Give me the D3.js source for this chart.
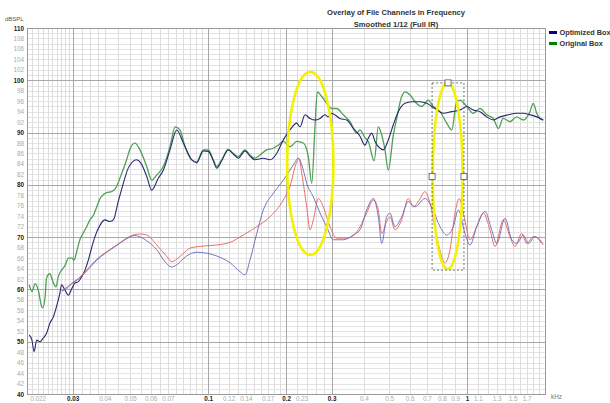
<!DOCTYPE html>
<html>
<head>
<meta charset="utf-8">
<script src="https://cdn.jsdelivr.net/npm/d3@7"></script>
<style>
  html, body { margin: 0; padding: 0; background: #ffffff; }
  svg { display: block; font-family: "Liberation Sans", Arial, sans-serif; }
</style>
</head>
<body>
<svg id="chart" width="610" height="403"></svg>
<script>
// ---- Frequency responses, [frequency in Hz, level in dB SPL] ----
const optimizedBox = [
  [20.4,51.3],[20.9,50.3],[21.3,48.1],[21.8,50.3],[22.4,50.0],[23.1,50.7],[23.8,51.6],[24.5,53.5],
  [25.3,54.8],[26.0,56.7],[26.8,59.3],[27.2,60.9],[28.0,59.9],[28.9,58.9],[29.8,60.2],[30.6,61.2],
  [31.6,61.5],[32.5,62.4],[33.5,63.7],[34.5,65.6],[35.5,67.9],[36.6,70.1],[38.3,72.3],[40.0,73.3],
  [41.8,73.0],[43.1,73.3],[45.0,76.8],[47.1,80.3],[49.2,83.2],[53.0,84.8],[55.0,84.2],[58.0,81.6],
  [60.6,79.0],[64.3,81.3],[67.2,82.8],[71.3,86.7],[75.7,90.5],[80.3,88.0],[86.5,84.8],[90.4,84.2],
  [95.9,86.5],[100.2,86.4],[104.8,84.6],[108.0,83.2],[112.9,84.6],[119.7,86.7],[125.2,85.9],[130.9,85.1],
  [138.9,86.5],[145.2,85.5],[151.8,84.8],[163.5,85.1],[173.5,84.8],[184.1,86.0],[195.3,88.6],[207.2,90.5],
  [220.0,91.8],[226.5,91.1],[236.8,93.4],[247.6,92.7],[258.8,92.4],[270.6,92.7],[282.9,93.4],[291.3,93.0],
  [300.2,93.7],[323.2,92.7],[343.1,92.4],[363.9,90.8],[386.2,89.3],[403.6,87.6],[415.7,88.9],[428.4,89.9],
  [441.3,88.3],[461.4,87.0],[475.1,86.7],[496.6,88.6],[519.2,91.5],[542.8,94.0],[576.2,95.6],[611.5,95.9],
  [658.2,95.9],[698.6,95.6],[752.2,94.6],[809.8,93.7],[872.8,94.0],[939.6,94.3],[997.2,95.0],[1057,94.3],
  [1122,94.0],[1191,93.0],[1263,92.4],[1341,93.0],[1443,93.4],[1555,93.7],[1649,93.7],[1750,93.4],
  [1858,93.0],[1970,92.4]
];

const originalBox = [
  [20.4,60.9],[20.9,59.6],[21.5,61.1],[22.1,59.9],[22.8,56.7],[23.0,56.5],[23.5,58.6],[23.8,62.2],
  [24.5,63.0],[25.3,61.2],[25.9,60.5],[26.4,62.4],[27.2,63.7],[28.0,64.5],[28.9,66.0],[29.8,66.0],
  [30.4,65.6],[31.1,67.2],[32.0,69.5],[33.0,70.8],[34.0,72.0],[35.0,73.3],[36.1,74.2],[37.2,75.8],
  [38.3,77.4],[39.4,78.1],[40.6,78.5],[42.5,78.7],[44.4,79.7],[45.7,81.3],[48.5,84.8],[50.0,86.9],
  [52.2,88.0],[54.6,86.7],[58.0,83.5],[60.6,80.9],[63.4,81.9],[67.2,83.5],[71.3,87.3],[74.6,91.1],
  [77.9,90.5],[81.5,87.3],[86.5,84.8],[90.4,84.4],[95.9,86.7],[100.2,86.7],[104.8,84.8],[108.0,83.5],
  [112.9,84.8],[119.7,86.8],[125.2,86.0],[130.9,85.4],[138.9,86.7],[145.2,85.7],[151.8,85.1],[158.7,85.7],
  [168.5,86.7],[178.7,87.0],[186.8,87.6],[195.3,88.3],[207.2,87.3],[220.0,88.3],[233.3,88.0],[243.9,85.4],
  [251.4,80.3],[258.8,91.1],[264.2,97.8],[274.7,96.9],[287.2,95.6],[300.2,94.6],[313.9,94.6],[332.9,93.4],
  [353.4,92.1],[375.0,89.9],[386.2,90.5],[403.6,89.0],[415.7,88.3],[438.0,84.6],[454.4,91.1],[468.4,89.5],
  [482.2,86.7],[496.6,82.8],[519.2,89.5],[535.1,92.7],[559.4,96.9],[576.2,97.8],[602.4,97.2],[629.6,95.9],
  [668.2,95.0],[708.6,96.2],[740.8,95.0],[786.4,94.0],[834.8,91.8],[872.8,90.5],[912.4,95.9],[939.6,96.2],
  [997.2,95.0],[1057,93.7],[1122,94.6],[1191,93.4],[1263,92.7],[1321,90.8],[1380,92.7],[1465,92.1],
  [1555,93.0],[1649,92.4],[1750,94.0],[1802,95.6],[1858,93.7],[1913,92.7],[1970,92.4]
];

// second channel of each box (lower traces)
const optimizedBoxCh2 = [
  [27.3,59.7],[28.0,59.9],[29.8,61.1],[31.6,62.0],[34.0,63.5],[37.2,65.6],[40.6,67.1],[44.4,68.4],
  [48.5,69.7],[52.2,70.3],[55.0,70.0],[58.0,69.3],[63.4,67.6],[68.2,65.3],[72.4,64.3],[76.6,64.9],
  [80.3,65.9],[90.4,67.1],[101.8,66.8],[112.9,66.0],[121.6,65.1],[132.9,63.4],[138.9,62.8],[145.2,65.6],
  [154.2,70.7],[163.5,75.2],[178.7,78.4],[195.3,80.9],[213.4,83.8],[223.1,85.1],[233.3,82.8],[240.4,80.3],
  [255.0,77.7],[270.6,74.6],[287.2,72.0],[304.6,69.5],[332.9,69.5],[363.9,70.4],[386.2,71.4],[409.8,75.2],
  [434.6,77.4],[454.4,73.9],[468.4,68.8],[489.6,73.9],[504.1,74.6],[527.0,72.0],[559.4,73.9],[593.4,76.8],
  [629.6,75.8],[688.2,77.4],[730.4,75.8],[786.4,72.0],[834.8,70.4],[885.0,72.0],[925.6,75.2],[982.2,70.7],
  [1027,68.5],[1090,72.0],[1173,74.9],[1245,71.4],[1302,68.8],[1402,73.6],[1488,69.5],[1555,68.8],
  [1649,70.4],[1724,68.8],[1830,70.1],[1942,68.8]
];

const originalBoxCh2 = [
  [27.3,59.7],[28.0,60.1],[29.8,61.2],[31.6,62.1],[34.0,63.7],[37.2,65.8],[40.6,67.2],[44.4,68.5],
  [48.5,69.8],[52.2,70.5],[54.6,70.6],[58.0,70.4],[63.4,68.5],[69.3,66.3],[72.4,65.3],[77.9,66.3],
  [85.2,67.9],[95.9,68.3],[108.0,68.5],[121.6,69.0],[136.8,70.4],[154.2,72.0],[173.5,73.9],[195.3,77.1],
  [207.2,79.7],[220.0,84.4],[224.5,85.0],[230.0,82.2],[240.4,75.8],[247.6,71.4],[255.0,73.3],[266.6,77.4],
  [278.6,75.8],[295.8,72.0],[313.9,69.8],[343.1,69.8],[375.0,71.0],[386.2,72.0],[409.8,74.6],[434.6,77.1],
  [454.4,75.2],[468.4,70.7],[489.6,73.0],[504.1,73.9],[527.0,71.4],[559.4,73.3],[593.4,77.4],[620.2,75.8],
  [648.4,76.8],[688.2,78.7],[719.4,76.5],[763.8,70.1],[822.2,65.1],[859.6,67.6],[898.6,74.6],[933.8,77.4],
  [967.6,74.6],[1027,69.5],[1090,72.0],[1156,74.6],[1226,71.4],[1282,68.2],[1380,73.3],[1465,70.1],
  [1532,68.2],[1626,70.7],[1699,68.8],[1802,70.1],[1913,69.5],[1970,68.5]
];

// ---- Axis tick labels ----
const xTickValues = [22, 30, 40, 50, 60, 70, 100, 120, 140, 170, 200, 230, 300, 400, 500, 600, 700, 800, 900, 1000, 1100, 1300, 1500, 1700];
const xTickLabels = ["0.022","0.03","0.04","0.05","0.06","0.07","0.1","0.12","0.14","0.17","0.2","0.23","0.3","0.4","0.5","0.6","0.7","0.8","0.9","1","1.1","1.3","1.5","1.7"];
const xMajorValues = [30, 100, 200, 300, 1000];
const xMinorGrid = [21,22,23,24,25,26,27,28,29, 32.5,35,37.5, 40,45,50,55,60,65,70,75,80,85,90,95,
                    110,120,130,140,150,160,170,180,190, 220,240,260,280,
                    400,500,600,700,800,900, 1100,1200,1300,1400,1500,1600,1700,1800,1900];
const yTickValues = d3.range(40, 111, 2);

// ---- Marked regions (yellow ellipses) and the selection frame ----
const highlightRegions = [
  { f0: 202, f1: 305, dbLow: 66.6, dbHigh: 101.6 },
  { f0: 737, f1: 962, dbLow: 63.9, dbHigh: 99.5 }
];
const selectionFrame = { f0: 733, f1: 973, dbLow: 63.7, dbHigh: 99.5 };

const series = [
  { name: "Original Box",  data: originalBox,     color: "#4f9f57", width: 1.3, legend: true },
  { name: "Optimized Box", data: optimizedBox,    color: "#27296e", width: 1.1, legend: true },
  { name: "Original Box 2",  data: originalBoxCh2,  color: "#e8605f", width: 0.9, legend: false },
  { name: "Optimized Box 2", data: optimizedBoxCh2, color: "#6a68b8", width: 0.9, legend: false }
];

// ---- Layout ----
const svg = d3.select("#chart");
const plot = { left: 27, right: 545, top: 28, bottom: 394 };

const x = d3.scaleLog().domain([20, 2000]).range([plot.left, plot.right]);
const y = d3.scaleLinear().domain([40, 110]).range([plot.bottom, plot.top]);

// grid: horizontal every dB, darker every 10 dB
const grid = svg.append("g");
grid.selectAll("line.hmin").data(d3.range(41, 110, 1).filter(v => v % 10 !== 0)).join("line")
  .attr("x1", plot.left).attr("x2", plot.right)
  .attr("y1", d => Math.round(y(d)) + 0.5).attr("y2", d => Math.round(y(d)) + 0.5)
  .attr("stroke", "#e4e4e4").attr("stroke-width", 1);
grid.selectAll("line.vmin").data(xMinorGrid).join("line")
  .attr("x1", d => Math.round(x(d)) + 0.5).attr("x2", d => Math.round(x(d)) + 0.5)
  .attr("y1", plot.top).attr("y2", plot.bottom)
  .attr("stroke", "#dddddd").attr("stroke-width", 1);
grid.selectAll("line.hmaj").data([50, 60, 70, 80, 90, 100]).join("line")
  .attr("x1", plot.left).attr("x2", plot.right)
  .attr("y1", d => Math.round(y(d)) + 0.5).attr("y2", d => Math.round(y(d)) + 0.5)
  .attr("stroke", "#a8a8a8").attr("stroke-width", 1);
grid.selectAll("line.vmaj").data(xMajorValues).join("line")
  .attr("x1", d => Math.round(x(d)) + 0.5).attr("x2", d => Math.round(x(d)) + 0.5)
  .attr("y1", plot.top).attr("y2", plot.bottom)
  .attr("stroke", "#a8a8a8").attr("stroke-width", 1);

// frame
svg.append("rect")
  .attr("x", plot.left + 0.5).attr("y", plot.top + 0.5)
  .attr("width", plot.right - plot.left).attr("height", plot.bottom - plot.top)
  .attr("fill", "none").attr("stroke", "#9a9a9a").attr("stroke-width", 1);

// y axis labels
const yAxis = d3.axisLeft(y).tickValues(yTickValues).tickSize(0).tickPadding(3).tickFormat(d3.format("d"));
const yg = svg.append("g").attr("transform", `translate(${plot.left},0)`).call(yAxis);
yg.select(".domain").remove();
yg.selectAll("text")
  .attr("font-size", 6.3)
  .attr("font-family", "Liberation Sans, Arial, sans-serif")
  .attr("fill", d => d % 10 === 0 ? "#222" : "#ababab")
  .attr("font-weight", d => d % 10 === 0 ? "bold" : "normal");

// x axis labels
const xAxis = d3.axisBottom(x).tickValues(xTickValues).tickSize(0).tickPadding(3)
  .tickFormat((d, i) => xTickLabels[i]);
const xg = svg.append("g").attr("transform", `translate(0,${plot.bottom})`).call(xAxis);
xg.select(".domain").remove();
xg.selectAll("text")
  .attr("font-size", 6.3)
  .attr("font-family", "Liberation Sans, Arial, sans-serif")
  .attr("fill", d => xMajorValues.includes(d) ? "#222" : "#ababab")
  .attr("font-weight", d => xMajorValues.includes(d) ? "bold" : "normal");

svg.append("text").attr("x", 551).attr("y", 399).text("kHz")
  .attr("font-size", 6.3).attr("fill", "#777");
svg.append("text").attr("x", 5).attr("y", 21).text("dBSPL")
  .attr("font-size", 6).attr("fill", "#555");

// title
svg.append("text").attr("x", 396).attr("y", 15).attr("text-anchor", "middle")
  .attr("font-size", 7.6).attr("font-weight", "bold").attr("fill", "#333")
  .text("Overlay of File Channels in Frequency");
svg.append("text").attr("x", 396).attr("y", 27).attr("text-anchor", "middle")
  .attr("font-size", 7.6).attr("font-weight", "bold").attr("fill", "#333")
  .text("Smoothed 1/12 (Full IR)");

// curves
svg.append("clipPath").attr("id", "plotClip").append("rect")
  .attr("x", plot.left).attr("y", plot.top)
  .attr("width", plot.right - plot.left).attr("height", plot.bottom - plot.top);

const line = d3.line().x(d => x(d[0])).y(d => y(d[1])).curve(d3.curveMonotoneX);
const curves = svg.append("g").attr("clip-path", "url(#plotClip)");
curves.selectAll("path").data(series).join("path")
  .attr("d", d => line(d.data))
  .attr("fill", "none")
  .attr("stroke", d => d.color)
  .attr("stroke-width", d => d.width)
  .attr("stroke-linejoin", "round");

// highlighted regions
const notes = svg.append("g");
notes.selectAll("ellipse").data(highlightRegions).join("ellipse")
  .attr("cx", d => (x(d.f0) + x(d.f1)) / 2)
  .attr("cy", d => (y(d.dbLow) + y(d.dbHigh)) / 2)
  .attr("rx", d => (x(d.f1) - x(d.f0)) / 2)
  .attr("ry", d => (y(d.dbLow) - y(d.dbHigh)) / 2)
  .attr("fill", "none").attr("stroke", "#f2f200").attr("stroke-width", 2.6);

const fx0 = x(selectionFrame.f0), fx1 = x(selectionFrame.f1);
const fy0 = y(selectionFrame.dbHigh), fy1 = y(selectionFrame.dbLow);
notes.append("rect")
  .attr("x", fx0).attr("y", fy0).attr("width", fx1 - fx0).attr("height", fy1 - fy0)
  .attr("fill", "none").attr("stroke", "#555").attr("stroke-width", 0.8)
  .attr("stroke-dasharray", "2,2");
const handles = [[(fx0 + fx1) / 2, fy0], [fx0, (fy0 + fy1) / 2], [fx1, (fy0 + fy1) / 2]];
notes.selectAll("rect.handle").data(handles).join("rect")
  .attr("class", "handle")
  .attr("x", d => d[0] - 3).attr("y", d => d[1] - 3)
  .attr("width", 6).attr("height", 6)
  .attr("fill", "#fff").attr("stroke", "#555").attr("stroke-width", 0.8);

// legend
const legendItems = series.filter(s => s.legend).reverse();
const legend = svg.append("g").attr("transform", "translate(549,0)");
legendItems.forEach((s, i) => {
  const ly = 32.5 + i * 11;
  const c = s.name === "Optimized Box" ? "#000080" : "#008000";
  legend.append("rect").attr("x", 0).attr("y", ly - 1.5).attr("width", 8).attr("height", 3).attr("fill", c);
  legend.append("text").attr("x", 10.5).attr("y", ly + 2.5).text(s.name)
    .attr("font-size", 7.3).attr("font-weight", "bold").attr("fill", "#333");
});
</script>
</body>
</html>
